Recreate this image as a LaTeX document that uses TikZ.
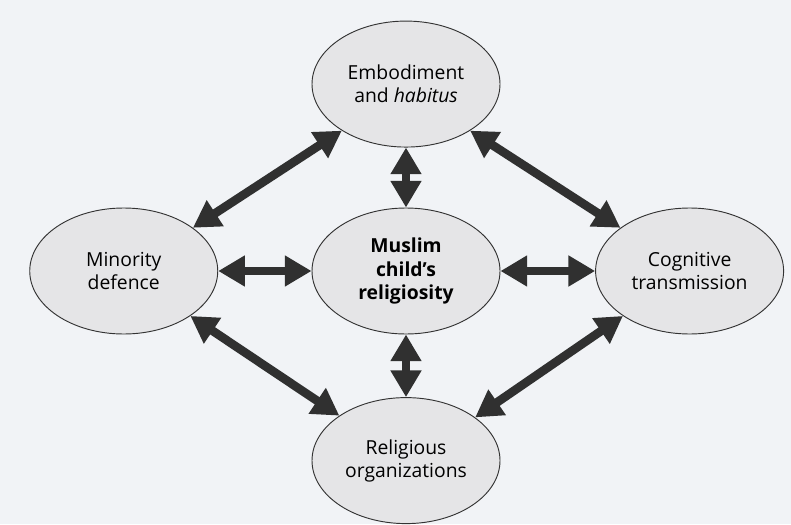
\documentclass[tikz,border=0pt]{standalone}
\usepackage{fontspec}
\setmainfont{Open Sans}
\usetikzlibrary{arrows.meta, positioning, shapes.geometric}

\definecolor{paper}{RGB}{241,243,246}
\definecolor{bubblefill}{RGB}{229,229,231}
\definecolor{ink}{RGB}{48,48,48}

\begin{document}
\begin{tikzpicture}[
  x=0.75pt, y=-0.75pt,
  font=\fontsize{14.5}{17.3}\selectfont,
  node distance=45pt and 70pt,
  bubble/.style ={ellipse, draw=black!80, line width=0.7pt, fill=bubblefill,
                  align=center, inner sep=0pt,
                  minimum width=141pt, minimum height=94.5pt},
  core/.style   ={bubble, font=\fontsize{14.5}{17.3}\selectfont\bfseries},
  link/.style   ={{Triangle[length=20pt,width=22pt]}-{Triangle[length=20pt,width=22pt]},
                  line width=6.5pt, ink},
]

% ================= canvas =================
\fill[paper] (0,0) rectangle (791,524);
\useasboundingbox (0,0) rectangle (791,524);

% ================= the five bubbles =================
\node[core] (child) at (406,271) {Muslim\\child’s\\religiosity};
\node[bubble, above=of child] (embody) {Embodiment\\and \textit{habitus}};
\node[bubble, below=47pt of child] (orgs) {Religious\\organizations};
\node[bubble, left=of child] (minority) {Minority\\defence};
\node[bubble, right=71pt of child] (cognit) {Cognitive\\transmission};

% ================= spokes to the centre =================
\foreach \a in {embody, orgs, minority, cognit}{\draw[link] (\a) -- (child);}

% ================= the outer ring =================
\draw[link] (embody.216) -- (minority.32);
\draw[link] (embody.324) -- (cognit.148);
\draw[link] (minority.326) -- (orgs.146);
\draw[link] (orgs.32) -- (cognit.214);

\end{tikzpicture}
\end{document}
